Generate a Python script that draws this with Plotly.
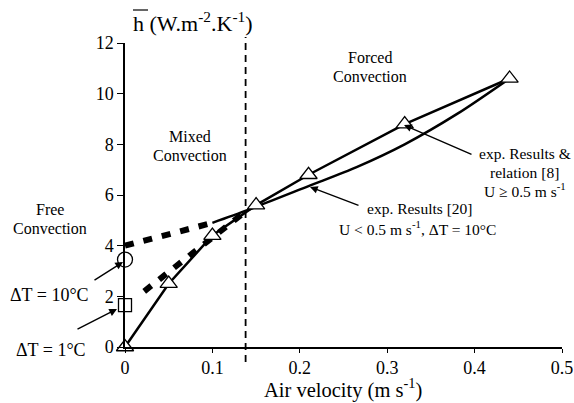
import plotly.graph_objects as go

# ---- data ----
tri_x = [0.0, 0.05, 0.10, 0.15, 0.21, 0.32, 0.44]
tri_y = [0.0, 2.5, 4.4, 5.6, 6.8, 8.8, 10.6]

curve_x = [0.10, 0.14, 0.21, 0.265, 0.32, 0.38, 0.44]
curve_y = [4.9, 5.4, 6.35, 7.1, 8.0, 9.2, 10.6]

dash10_x = [0.0, 0.10]
dash10_y = [4.0, 4.9]

dash1_x = [0.022, 0.138]
dash1_y = [2.2, 5.35]

free10_x = [0.0]
free10_y = [3.45]
free1_x = [0.0]
free1_y = [1.65]

transition_x = 0.138

x_ticks = [0, 0.1, 0.2, 0.3, 0.4, 0.5]
x_labels = ["0", "0.1", "0.2", "0.3", "0.4", "0.5"]
y_ticks = [0, 2, 4, 6, 8, 10, 12]

FONT = "Liberation Serif, Times New Roman, serif"

# plot-area geometry (pixels) used to place free text
L, R, T, B, W, H = 125, 12, 43, 56, 574, 403
PW, PH = W - L - R, H - T - B
def px(xp):
    return (xp - L) / PW
def py(yp):
    return (H - B - yp) / PH

fig = go.Figure()

fig.add_trace(go.Scatter(x=dash10_x, y=dash10_y, mode="lines",
                         line=dict(color="black", width=6, dash="9px,10px"),
                         hoverinfo="skip"))
fig.add_trace(go.Scatter(x=dash1_x, y=dash1_y, mode="lines",
                         line=dict(color="black", width=6, dash="9px,10px"),
                         hoverinfo="skip"))
fig.add_trace(go.Scatter(x=curve_x, y=curve_y, mode="lines",
                         line=dict(color="black", width=2.5, shape="spline", smoothing=0.8),
                         hoverinfo="skip"))
fig.add_trace(go.Scatter(x=tri_x, y=tri_y, mode="lines+markers",
                         line=dict(color="black", width=2.5),
                         marker=dict(symbol="triangle-up", size=15, color="white",
                                     line=dict(color="black", width=1.3)),
                         cliponaxis=False))
fig.add_trace(go.Scatter(x=free10_x, y=free10_y, mode="markers",
                         marker=dict(symbol="circle", size=15, color="white",
                                     line=dict(color="black", width=1.3)),
                         cliponaxis=False))
fig.add_trace(go.Scatter(x=free1_x, y=free1_y, mode="markers",
                         marker=dict(symbol="square", size=13, color="white",
                                     line=dict(color="black", width=1.3)),
                         cliponaxis=False))

fig.add_shape(type="line", xref="x", yref="paper", x0=transition_x, x1=transition_x,
              y0=py(362), y1=py(37), line=dict(color="black", width=1.8, dash="7px,5px"))
# overline on h
fig.add_shape(type="line", xref="paper", yref="paper", x0=px(133), x1=px(148),
              y0=py(10), y1=py(10), line=dict(color="black", width=1.2))

ann = []
def txt(xp, yp, s, size=16):
    ann.append(dict(x=px(xp), y=py(yp), xref="paper", yref="paper", text=s, showarrow=False,
                    font=dict(family=FONT, size=size, color="black"),
                    xanchor="center", yanchor="middle", align="center"))

txt(193, 22, "h (W.m<sup>-2</sup>.K<sup>-1</sup>)", size=22)
txt(190, 136, "Mixed")
txt(190, 155, "Convection")
txt(370, 58, "Forced")
txt(370, 77, "Convection")
txt(50, 209, "Free")
txt(50, 228, "Convection")
txt(49, 295, "ΔT = 10°C", size=18)
txt(51, 350, "ΔT = 1°C", size=18)
txt(524.5, 153, "exp. Results &amp;", size=15.5)
txt(524.5, 172, "relation [8]", size=15.5)
txt(525, 190, "U ≥ 0.5 m s<sup>-1</sup>", size=15.5)
txt(419, 208, "exp. Results [20]", size=15.5)
txt(417, 228, "U &lt; 0.5 m s<sup>-1</sup>, ΔT = 10°C", size=15.5)
txt(343, 388.5, "Air velocity (m s<sup>-1</sup>)", size=20.5)

def arrow(xh, yh, xt, yt):
    ann.append(dict(x=px(xh), y=py(yh), xref="paper", yref="paper",
                    ax=xt - xh, ay=yt - yh, text="",
                    showarrow=True, arrowhead=2, arrowsize=1.1, arrowwidth=1.4,
                    arrowcolor="black"))

arrow(123, 262, 93, 281)
arrow(117, 309, 76, 330)
arrow(404, 125, 473, 155)
arrow(310, 187, 360, 206)

fig.update_layout(
    width=W, height=H,
    margin=dict(l=L, r=R, t=T, b=B),
    plot_bgcolor="white", paper_bgcolor="white",
    showlegend=False,
    font=dict(family=FONT, size=18, color="black"),
    annotations=ann,
    xaxis=dict(range=[0, 0.5], tickvals=x_ticks, ticktext=x_labels, automargin=False,
               showgrid=False, zeroline=False, showline=True, linecolor="black",
               linewidth=1.5, ticks="outside", ticklen=4, tickwidth=1.3, tickcolor="black",
               tickfont=dict(family=FONT, size=18)),
    yaxis=dict(range=[0, 12], tickvals=y_ticks, automargin=False,
               showgrid=False, zeroline=False, showline=True, linecolor="black",
               linewidth=1.5, ticks="outside", ticklen=6, tickwidth=1.3, tickcolor="black",
               tickfont=dict(family=FONT, size=18)),
)

fig.write_html("out.html", config={"displayModeBar": False},
               post_script="document.body.style.margin='0';")
